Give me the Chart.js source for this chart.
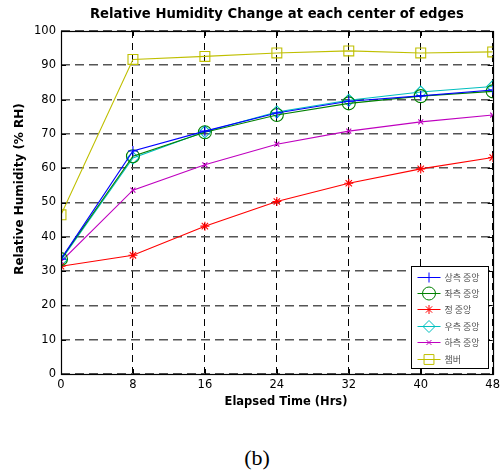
<!DOCTYPE html>
<html>
<head>
<meta charset="utf-8">
<script src="https://cdn.jsdelivr.net/npm/chart.js@4/dist/chart.umd.min.js"></script>
<style>
  html, body { margin: 0; padding: 0; background: #fff; }
  #wrap { position: relative; width: 504px; height: 473px; }
  #c { position: absolute; left: 0; top: 0; }
  #cap { position: absolute; left: 0; width: 514px; top: 445px; text-align: center;
         font-family: "Liberation Serif", serif; font-size: 22px; color: #000; }
</style>
</head>
<body>
<div id="wrap">
  <canvas id="c" width="504" height="420"></canvas>
  <div id="cap">(b)</div>
</div>
<script>
// Elapsed time (hours) and relative humidity (% RH) at each edge centre
const hours = [0, 8, 16, 24, 32, 40, 48];
const seriesNames = ['상측 중앙', '좌측 중앙', '정 중앙', '우측 중앙', '하측 중앙', '챔버'];
const topCenter    = [33.5, 65.0, 70.8, 76.1, 79.5, 81.1, 82.8];
const leftCenter   = [33.5, 63.5, 70.5, 75.5, 78.9, 81.0, 82.4];
const middle       = [31.4, 34.6, 43.1, 50.3, 55.6, 59.8, 63.1];
const rightCenter  = [33.2, 63.0, 70.6, 76.4, 79.8, 82.2, 83.8];
const bottomCenter = [32.8, 53.6, 61.0, 67.0, 70.8, 73.5, 75.5];
const chamber      = [46.4, 91.7, 92.6, 93.6, 94.2, 93.6, 93.9];
const xTicks = [0, 8, 16, 24, 32, 40, 48];
const yTicks = [0, 10, 20, 30, 40, 50, 60, 70, 80, 90, 100];

const chartTitle = 'Relative Humidity Change at each center of edges';
const xTitle = 'Elapsed Time (Hrs)';
const yTitle = 'Relative Humidity (% RH)';

const values = [topCenter, leftCenter, middle, rightCenter, bottomCenter, chamber];
const colors = ['#0000ff', '#008000', '#ff0000', '#00bfbf', '#bf00bf', '#bfbf00'];
const styles = ['cross', 'circle', 'star', 'rectRot', 'crossRot', 'rect'];
const radii  = [5, 6.5, 4.5, 6, 3.5, 7];

const datasets = values.map((v, i) => ({
  label: seriesNames[i],
  data: hours.map((h, k) => ({ x: h, y: v[k] })),
  borderColor: colors[i],
  backgroundColor: 'rgba(0,0,0,0)',
  borderWidth: 1.1,
  pointStyle: styles[i],
  pointRadius: radii[i],
  pointBorderColor: colors[i],
  pointBackgroundColor: 'rgba(0,0,0,0)',
  pointBorderWidth: 1.1,
  tension: 0
}));

const FONT = '"DejaVu Sans", sans-serif';
const tickFont = { family: FONT, size: 11.5 };

// Title and axis titles, frame and inward tick marks
const framePlugin = {
  id: 'frame',
  afterDatasetsDraw(chart) {
    const a = chart.chartArea, ctx = chart.ctx;
    ctx.save();
    ctx.setLineDash([]);
    ctx.fillStyle = '#000';
    ctx.textAlign = 'center';
    ctx.textBaseline = 'middle';
    ctx.font = 'bold 13.2px ' + FONT;
    ctx.fillText(chartTitle, (a.left + a.right) / 2, 15);
    ctx.font = 'bold 11.5px ' + FONT;
    ctx.fillText(xTitle, 286, 402);
    ctx.save();
    ctx.translate(20, 189);
    ctx.rotate(-Math.PI / 2);
    ctx.font = 'bold 12px ' + FONT;
    ctx.fillText(yTitle, 0, 0);
    ctx.restore();

    ctx.strokeStyle = '#000';
    ctx.lineWidth = 1.2;
    ctx.strokeRect(Math.round(a.left) + 0.5, Math.round(a.top) + 0.5,
                   Math.round(a.right - a.left), Math.round(a.bottom - a.top));
    const xs = chart.scales.x, ys = chart.scales.y;
    ctx.lineWidth = 1;
    xTicks.forEach(t => {
      const px = Math.round(xs.getPixelForValue(t)) + 0.5;
      ctx.beginPath();
      ctx.moveTo(px, a.bottom); ctx.lineTo(px, a.bottom - 5);
      ctx.moveTo(px, a.top); ctx.lineTo(px, a.top + 5);
      ctx.stroke();
    });
    yTicks.forEach(t => {
      const py = Math.round(ys.getPixelForValue(t)) + 0.5;
      ctx.beginPath();
      ctx.moveTo(a.left, py); ctx.lineTo(a.left + 5, py);
      ctx.moveTo(a.right, py); ctx.lineTo(a.right - 5, py);
      ctx.stroke();
    });
    ctx.restore();
  }
};

// Boxed legend in the lower right corner of the plot area
const boxLegendPlugin = {
  id: 'boxLegend',
  afterDraw(chart) {
    const ctx = chart.ctx;
    const a = chart.chartArea;
    const w = 77, rowH = 16.4;
    const h = 102;
    const x0 = Math.round(a.right - 5 - w) + 0.5;
    const y0 = Math.round(a.bottom - 6 - h) + 0.5;
    ctx.save();
    ctx.fillStyle = '#fff';
    ctx.fillRect(x0, y0, w, h);
    ctx.strokeStyle = '#000';
    ctx.lineWidth = 1;
    ctx.setLineDash([]);
    ctx.strokeRect(x0, y0, w, h);
    ctx.font = '9px "Noto Sans CJK KR", sans-serif';
    ctx.textBaseline = 'middle';
    ctx.textAlign = 'left';
    datasets.forEach((ds, i) => {
      const cy = Math.round(y0 + 10 + i * rowH) + 0.5;
      ctx.strokeStyle = ds.borderColor;
      ctx.lineWidth = 1;
      ctx.beginPath();
      ctx.moveTo(x0 + 6, cy);
      ctx.lineTo(x0 + 29, cy);
      ctx.stroke();
      ctx.fillStyle = 'rgba(0,0,0,0)';
      ctx.strokeStyle = ds.borderColor;
      Chart.helpers.drawPoint(ctx, {
        pointStyle: ds.pointStyle,
        radius: ds.pointRadius,
        borderWidth: 1,
        rotation: 0
      }, x0 + 17.5, cy);
      ctx.fillStyle = '#505050';
      ctx.fillText(ds.label, x0 + 33, cy);
    });
    ctx.restore();
  }
};

new Chart(document.getElementById('c'), {
  type: 'line',
  data: { datasets },
  plugins: [framePlugin, boxLegendPlugin],
  options: {
    responsive: false,
    animation: false,
    layout: { padding: { left: 0, right: 11, top: 31, bottom: 0 } },
    plugins: {
      legend: { display: false },
      tooltip: { enabled: false },
      title: { display: false }
    },
    scales: {
      x: {
        type: 'linear',
        min: 0, max: 48,
        afterBuildTicks(scale) { scale.ticks = xTicks.map(v => ({ value: v })); },
        afterFit(scale) { scale.height = 46; },
        ticks: { color: '#000', font: tickFont, padding: 4, maxRotation: 0 },
        grid: { color: '#000', lineWidth: 1, drawTicks: false },
        border: { display: false, dash: [7, 5] }
      },
      y: {
        type: 'linear',
        min: 0, max: 100,
        afterBuildTicks(scale) { scale.ticks = yTicks.map(v => ({ value: v })); },
        afterFit(scale) { scale.width = 61; },
        ticks: { color: '#000', font: tickFont, padding: 5 },
        grid: { color: '#555', lineWidth: 1.6, drawTicks: false },
        border: { display: false, dash: [9, 5] }
      }
    }
  }
});
</script>
</body>
</html>
